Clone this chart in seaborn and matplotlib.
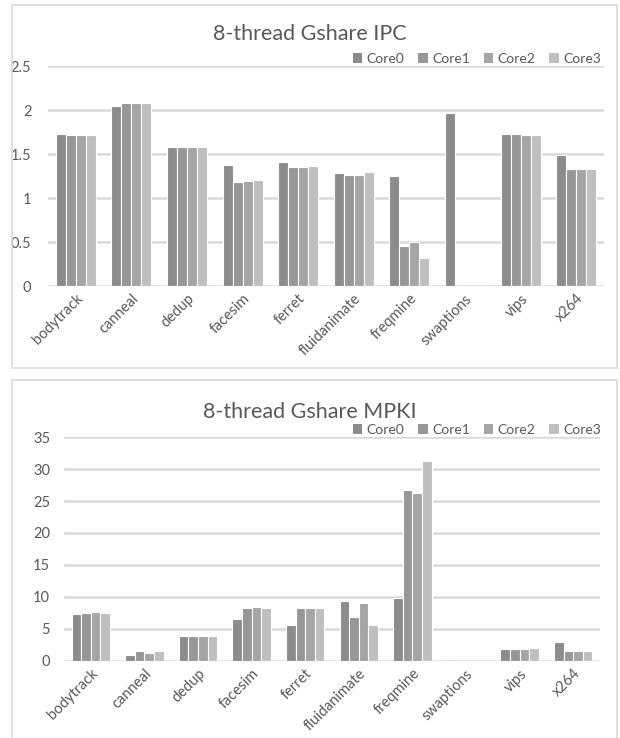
import matplotlib
matplotlib.use("Agg")
import matplotlib.pyplot as plt
from matplotlib.patches import Rectangle, Patch
import seaborn as sns
import pandas as pd

benchmarks = ["bodytrack", "canneal", "dedup", "facesim", "ferret",
              "fluidanimate", "freqmine", "swaptions", "vips", "x264"]
cores = ["Core0", "Core1", "Core2", "Core3"]

ipc_core0 = [1.73, 2.05, 1.58, 1.38, 1.41, 1.28, 1.25, 1.97, 1.73, 1.49]
ipc_core1 = [1.72, 2.08, 1.58, 1.18, 1.35, 1.26, 0.46, 0.0, 1.73, 1.33]
ipc_core2 = [1.72, 2.08, 1.58, 1.19, 1.35, 1.26, 0.50, 0.0, 1.72, 1.33]
ipc_core3 = [1.72, 2.08, 1.58, 1.20, 1.36, 1.29, 0.32, 0.0, 1.72, 1.33]

mpki_core0 = [7.3, 0.9, 3.9, 6.5, 5.7, 9.3, 9.9, 0.0, 1.9, 2.9]
mpki_core1 = [7.5, 1.5, 3.9, 8.3, 8.3, 6.9, 26.7, 0.0, 1.9, 1.5]
mpki_core2 = [7.7, 1.3, 3.9, 8.5, 8.3, 9.1, 26.3, 0.0, 1.9, 1.5]
mpki_core3 = [7.5, 1.5, 3.9, 8.3, 8.3, 5.7, 31.2, 0.0, 2.1, 1.5]

ipc_ticks = [0, 0.5, 1, 1.5, 2, 2.5]
ipc_ticklabels = ["0", "0.5", "1", "1.5", "2", "2.5"]
mpki_ticks = [0, 5, 10, 15, 20, 25, 30, 35]
mpki_ticklabels = ["0", "5", "10", "15", "20", "25", "30", "35"]

colors = ["#8c8c8c", "#979797", "#a5a5a5", "#bfbfbf"]
text_color = "#595959"
grid_color = "#d9d9d9"

sns.set_theme(style="white")
plt.rcParams["font.family"] = ["Lato", "DejaVu Sans"]


def long_df(series_list):
    rows = []
    for core, vals in zip(cores, series_list):
        for b, v in zip(benchmarks, vals):
            rows.append({"benchmark": b, "core": core, "value": v})
    return pd.DataFrame(rows)


ipc_df = long_df([ipc_core0, ipc_core1, ipc_core2, ipc_core3])
mpki_df = long_df([mpki_core0, mpki_core1, mpki_core2, mpki_core3])

W, H = 620, 738
fig = plt.figure(figsize=(W / 100, H / 100), dpi=100)

# panel borders
fig.patches.append(Rectangle((12 / W, 1 - 368 / H), (617 - 12) / W, (368 - 5) / H,
                             transform=fig.transFigure, fill=False,
                             edgecolor=grid_color, linewidth=1.2, zorder=0))
fig.patches.append(Rectangle((12 / W, -0.01), (617 - 12) / W, 0.01 + (H - 380) / H,
                             transform=fig.transFigure, fill=False,
                             edgecolor=grid_color, linewidth=1.2, zorder=0))


def draw(ax, df, ylim, ticks, ticklabels, title, title_y, ypad, leg_y):
    sns.barplot(data=df, x="benchmark", y="value", hue="core", order=benchmarks,
                hue_order=cores, palette=colors, width=0.72, ax=ax,
                edgecolor="white", linewidth=0.8, legend=False, errorbar=None,
                zorder=3)
    ax.set_ylim(*ylim)
    ax.set_xlim(-0.5, len(benchmarks) - 0.5)
    ax.set_yticks(ticks)
    ax.set_yticklabels(ticklabels)
    ax.yaxis.grid(True, color=grid_color, linewidth=1.8, zorder=0)
    ax.set_axisbelow(True)
    for s in ax.spines.values():
        s.set_visible(False)
    ax.tick_params(axis="both", length=0, colors=text_color, labelsize=10.5)
    ax.tick_params(axis="y", pad=ypad)
    ax.tick_params(axis="x", pad=4)
    for lab in ax.get_xticklabels():
        lab.set_rotation(45)
        lab.set_ha("right")
        lab.set_rotation_mode("anchor")
    ax.set_xlabel("")
    ax.set_ylabel("")
    fig.text(0.5, title_y, title, ha="center", va="center", fontsize=15.5,
             color=text_color)
    handles = [Patch(facecolor=c, edgecolor="none") for c in colors]
    fig.legend(handles, cores, loc="center right",
               bbox_to_anchor=(601 / W, leg_y), ncol=4, frameon=False,
               fontsize=10, handlelength=0.7, handleheight=0.7,
               handletextpad=0.3, columnspacing=1.0, labelcolor=text_color,
               borderaxespad=0, borderpad=0)


ax1 = fig.add_axes([48 / W, 1 - 286 / H, (604 - 48) / W, (286 - 66) / H])
draw(ax1, ipc_df, (0, 2.5), ipc_ticks, ipc_ticklabels, "8-thread Gshare IPC",
     1 - 34 / H, 12, 1 - 59 / H)

ax2 = fig.add_axes([64 / W, 1 - 661 / H, (600 - 64) / W, (661 - 437) / H])
draw(ax2, mpki_df, (0, 35), mpki_ticks, mpki_ticklabels, "8-thread Gshare MPKI",
     1 - 412 / H, 10, 1 - 430 / H)

fig.savefig("out.png", dpi=100, facecolor="white")
